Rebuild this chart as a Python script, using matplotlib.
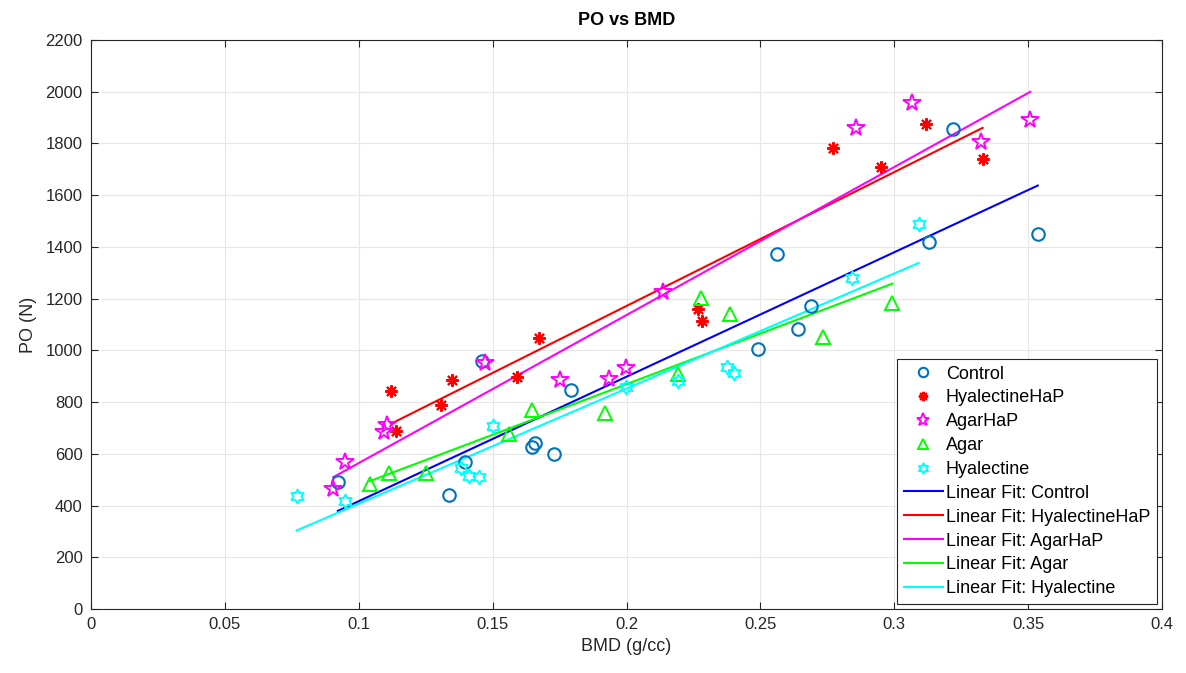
import numpy as np
import matplotlib
matplotlib.use("Agg")
import matplotlib.pyplot as plt
from matplotlib.path import Path

plt.rcParams['font.family'] = ['Liberation Sans', 'DejaVu Sans']

# ---- data ----
control_x = [0.0922, 0.1337, 0.1397, 0.1460, 0.1647, 0.1659, 0.1729, 0.1793,
             0.2492, 0.2642, 0.2688, 0.2561, 0.3130, 0.3536, 0.3218]
control_y = [491, 441, 568, 959, 628, 641, 599, 846,
             1007, 1083, 1173, 1372, 1420, 1451, 1856]

hhap_x = [0.1121, 0.1140, 0.1308, 0.1349, 0.1590, 0.1674, 0.2268, 0.2283,
          0.2773, 0.2949, 0.3120, 0.3330]
hhap_y = [842, 688, 790, 886, 897, 1049, 1160, 1112, 1781, 1709, 1875, 1739]

ahap_x = [0.0905, 0.0949, 0.1096, 0.1104, 0.1470, 0.1752, 0.1936, 0.1998,
          0.2135, 0.2856, 0.3065, 0.3324, 0.3508]
ahap_y = [463, 570, 686, 712, 950, 886, 888, 933, 1227, 1861, 1958, 1805, 1891]

agar_x = [0.1042, 0.1114, 0.1253, 0.1562, 0.1647, 0.1920, 0.2194, 0.2278,
          0.2387, 0.2735, 0.2993]
agar_y = [482, 525, 525, 675, 770, 757, 909, 1204, 1140, 1051, 1182]

hyal_x = [0.0768, 0.0950, 0.1381, 0.1413, 0.1449, 0.1503, 0.1997, 0.2191,
          0.2374, 0.2401, 0.2843, 0.3091]
hyal_y = [437, 418, 544, 514, 512, 709, 860, 882, 937, 914, 1279, 1489]

groups = ["Control", "HyalectineHaP", "AgarHaP", "Agar", "Hyalectine"]
xs = [control_x, hhap_x, ahap_x, agar_x, hyal_x]
ys = [control_y, hhap_y, ahap_y, agar_y, hyal_y]

x_ticks = [0, 0.05, 0.1, 0.15, 0.2, 0.25, 0.3, 0.35, 0.4]
x_ticklabels = ["0", "0.05", "0.1", "0.15", "0.2", "0.25", "0.3", "0.35", "0.4"]
y_ticks = list(range(0, 2201, 200))

# ---- styles ----
# hexagram path
ang_out = np.deg2rad(90 + np.arange(6) * 60)
ang_in = np.deg2rad(120 + np.arange(6) * 60)
r_in = 1 / np.sqrt(3)
verts = []
for ao, ai in zip(ang_out, ang_in):
    verts.append((np.cos(ao), np.sin(ao)))
    verts.append((r_in * np.cos(ai), r_in * np.sin(ai)))
verts.append(verts[0])
codes = [Path.MOVETO] + [Path.LINETO] * (len(verts) - 2) + [Path.CLOSEPOLY]
hexagram = Path(verts, codes)

marker_styles = [
    dict(marker='o', color='#0072BD', ms=9, mfc='none', mew=1.5),
    dict(marker=(8, 2, 0), color='#FF0000', ms=9, mew=1.5),
    dict(marker='*', color='#FF00FF', ms=13, mfc='none', mew=1.4),
    dict(marker='^', color='#00FF00', ms=10, mfc='none', mew=1.4),
    dict(marker=hexagram, color='#00FFFF', ms=10, mfc='none', mew=1.4),
]
line_colors = ['#0000FF', '#FF0000', '#FF00FF', '#00FF00', '#00FFFF']

fig = plt.figure(figsize=(11.86, 6.73), dpi=100)
ax = fig.add_axes([0.0767, 0.0951, 0.9031, 0.8455])

for g, x, y, st in zip(groups, xs, ys, marker_styles):
    ax.plot(x, y, linestyle='none', label=g, markeredgecolor=st['color'],
            marker=st['marker'], markersize=st['ms'],
            markerfacecolor=st.get('mfc', st['color']),
            markeredgewidth=st['mew'], zorder=3)

for g, x, y, c in zip(groups, xs, ys, line_colors):
    xa = np.array(x)
    ya = np.array(y)
    p = np.polyfit(xa, ya, 1)
    xx = np.array([xa.min(), xa.max()])
    ax.plot(xx, np.polyval(p, xx), color=c, lw=1.5, label='Linear Fit: ' + g, zorder=2)

ax.set_xlim(0, 0.4)
ax.set_ylim(0, 2200)
ax.set_xticks(x_ticks)
ax.set_xticklabels(x_ticklabels)
ax.set_yticks(y_ticks)
ax.grid(True, color='#E6E6E6', lw=0.8)
ax.set_axisbelow(True)
for s in ax.spines.values():
    s.set_color('#262626')
    s.set_linewidth(0.8)
ax.tick_params(direction='in', top=True, right=True, labelsize=12,
               colors='#262626', length=5, width=0.8, pad=6)
ax.set_xlabel('BMD (g/cc)', fontsize=13, color='#262626', labelpad=4)
ax.set_ylabel('PO (N)', fontsize=13, color='#262626', labelpad=6)
ax.set_title('PO vs BMD', fontsize=13, fontweight='bold', pad=11)

leg = ax.legend(loc='lower right', fontsize=13, frameon=True, fancybox=False,
                edgecolor='#262626', framealpha=1, handlelength=2.2,
                handletextpad=0.15, labelspacing=0.38, borderpad=0.35,
                borderaxespad=0.3, markerscale=0.75)
leg.get_frame().set_linewidth(0.8)

fig.savefig('out.png', dpi=100)
